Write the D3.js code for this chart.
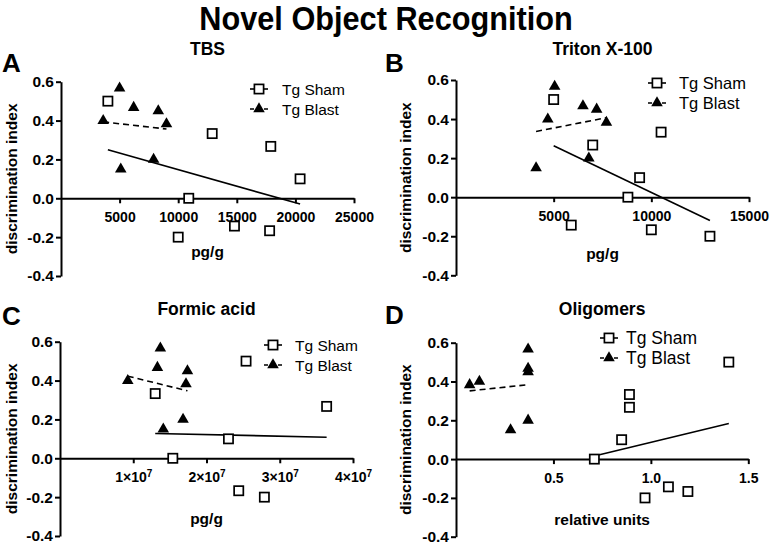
<!DOCTYPE html>
<html>
<head>
<meta charset="utf-8">
<script src="https://cdn.jsdelivr.net/npm/d3@7"></script>
<style>
  html, body { margin: 0; padding: 0; background: #fff; }
  svg { display: block; }
  text { font-family: "Liberation Sans", Arial, Helvetica, sans-serif; fill: #000; }
</style>
</head>
<body>
<svg id="chart" width="771" height="544"></svg>
<script>
// ---------------- DATA ----------------
const chartTitle = "Novel Object Recognition";
const panelLetters = ["A", "B", "C", "D"];
const panelTitles = ["TBS", "Triton X-100", "Formic acid", "Oligomers"];
const xAxisLabels = ["pg/g", "pg/g", "pg/g", "relative units"];
const yAxisLabel = "discrimination index";
const seriesNames = ["Tg Sham", "Tg Blast"];

const yTicks = [-0.4, -0.2, 0.0, 0.2, 0.4, 0.6];
const xDomainMax = [25000, 15000, 4e7, 1.5];
const xTicksA = [5000, 10000, 15000, 20000, 25000];
const xTicksB = [5000, 10000, 15000];
const xTicksC = [1e7, 2e7, 3e7, 4e7];
const xTicksD = [0.5, 1.0, 1.5];

// Panel A: TBS
const shamA_x = [4000, 12900, 17900, 20400, 10900, 10000, 14800, 17800];
const shamA_y = [0.5, 0.333, 0.267, 0.1, 0.0, -0.2, -0.143, -0.167];
const blastA_x = [3600, 5000, 6200, 8300, 9000, 7900, 5100];
const blastA_y = [0.4, 0.567, 0.467, 0.45, 0.383, 0.2, 0.15];

// Panel B: Triton X-100
const shamB_x = [5000, 7000, 10500, 9400, 8800, 5900, 10000, 13000];
const shamB_y = [0.5, 0.267, 0.333, 0.1, 0.0, -0.143, -0.167, -0.2];
const blastB_x = [4100, 4700, 5050, 6500, 7200, 7700, 6800];
const blastB_y = [0.15, 0.4, 0.567, 0.467, 0.45, 0.383, 0.2];

// Panel C: Formic acid
const shamC_x = [1.30e7, 2.54e7, 3.64e7, 2.30e7, 1.54e7, 2.44e7, 2.79e7];
const shamC_y = [0.333, 0.5, 0.267, 0.1, 0.0, -0.167, -0.2];
const blastC_x = [0.925e7, 1.37e7, 1.33e7, 1.74e7, 1.72e7, 1.68e7, 1.41e7];
const blastC_y = [0.4, 0.567, 0.467, 0.45, 0.383, 0.2, 0.15];

// Panel D: Oligomers
const shamD_x = [0.71, 0.85, 0.89, 0.89, 1.40, 0.97, 1.09, 1.19];
const shamD_y = [0.0, 0.1, 0.333, 0.267, 0.5, -0.2, -0.143, -0.167];
const blastD_x = [0.07, 0.12, 0.28, 0.37, 0.37, 0.37, 0.37];
const blastD_y = [0.383, 0.4, 0.15, 0.2, 0.567, 0.467, 0.45];

// ---------------- LAYOUT ----------------
const layout = [
  { x0: 61,  x1: 354,   yTop: 81.7,  yBot: 276,   titleY: 55,  letterX: 2,   letterY: 72,  ylabX: 17,  xlabY: 257, legX: 259, legTx: 282, legY: 89,  legFont: 15.5 },
  { x0: 456, x1: 749,   yTop: 80,    yBot: 275.3, titleY: 55,  letterX: 385, letterY: 72,  ylabX: 411, xlabY: 259, legX: 657, legTx: 679, legY: 83,  legFont: 16.5 },
  { x0: 60,  x1: 353,   yTop: 341.7, yBot: 536,   titleY: 315, letterX: 2,   letterY: 325, ylabX: 17,  xlabY: 524, legX: 273, legTx: 295, legY: 345, legFont: 15.5 },
  { x0: 456, x1: 748.3, yTop: 342.7, yBot: 536.7, titleY: 315, letterX: 385, letterY: 324, ylabX: 411, xlabY: 525, legX: 609, legTx: 626, legY: 338, legFont: 17.5 }
];

const panels = [
  { xt: xTicksA, sx: shamA_x, sy: shamA_y, bx: blastA_x, by: blastA_y, fmt: d => String(d) },
  { xt: xTicksB, sx: shamB_x, sy: shamB_y, bx: blastB_x, by: blastB_y, fmt: d => String(d) },
  { xt: xTicksC, sx: shamC_x, sy: shamC_y, bx: blastC_x, by: blastC_y, fmt: null },
  { xt: xTicksD, sx: shamD_x, sy: shamD_y, bx: blastD_x, by: blastD_y, fmt: d => d.toFixed(1) }
];

const svg = d3.select("#chart");

svg.append("text")
  .attr("transform", "translate(386,30) scale(0.93,1)")
  .attr("text-anchor", "middle")
  .attr("font-size", 33).attr("font-weight", "bold")
  .text(chartTitle);

function fit(xs, ys) {
  const mx = d3.mean(xs), my = d3.mean(ys);
  let num = 0, den = 0;
  xs.forEach((x, i) => { num += (x - mx) * (ys[i] - my); den += (x - mx) * (x - mx); });
  const b = num / den, a = my - b * mx;
  const lo = d3.min(xs), hi = d3.max(xs);
  return [[lo, a + b * lo], [hi, a + b * hi]];
}

const triangle = d3.symbol().type(d3.symbolTriangle).size(58);
const SQ = 9.2;

panels.forEach((p, i) => {
  const L = layout[i];
  const g = svg.append("g");
  const x = d3.scaleLinear().domain([0, xDomainMax[i]]).range([L.x0, L.x1]);
  const y = d3.scaleLinear().domain([-0.4, 0.6]).range([L.yBot, L.yTop]);
  const cx = (L.x0 + L.x1) / 2;

  // letter & title
  g.append("text").attr("x", L.letterX).attr("y", L.letterY)
    .attr("font-size", 26).attr("font-weight", "bold").text(panelLetters[i]);
  g.append("text").attr("x", cx).attr("y", L.titleY).attr("text-anchor", "middle")
    .attr("font-size", 17.5).attr("font-weight", "bold").text(panelTitles[i]);

  // y axis
  const ya = g.append("g").attr("transform", `translate(${L.x0},0)`)
    .call(d3.axisLeft(y).tickValues(yTicks).tickSize(5).tickSizeOuter(0).tickPadding(2)
      .tickFormat(v => v.toFixed(1)));
  // x axis at y = 0
  const xa = g.append("g").attr("transform", `translate(0,${y(0)})`)
    .call(d3.axisBottom(x).tickValues(p.xt).tickSize(5).tickSizeOuter(0).tickPadding(9)
      .tickFormat(p.fmt ? p.fmt : () => ""));
  [ya, xa].forEach(a => {
    a.select(".domain").attr("stroke", "#000").attr("stroke-width", 2);
    a.selectAll(".tick line").attr("stroke", "#000").attr("stroke-width", 2);
    a.selectAll(".tick text").attr("font-weight", "bold")
      .attr("font-family", '"Liberation Sans", Arial, Helvetica, sans-serif').attr("fill", "#000");
  });
  ya.selectAll(".tick text").attr("font-size", 15.5);
  xa.selectAll(".tick text").attr("font-size", 14);
  if (!p.fmt) {
    xa.selectAll(".tick text").each(function(d) {
      const t = d3.select(this);
      t.text(null);
      t.append("tspan").text(Math.round(d / 1e7) + "\u00d710");
      t.append("tspan").attr("font-size", 10).attr("dy", "-0.55em").text("7");
    });
  }

  // axis labels
  g.append("text").attr("transform", `translate(${L.ylabX},${(L.yTop + L.yBot) / 2}) rotate(-90)`)
    .attr("text-anchor", "middle").attr("font-size", 15.5).attr("font-weight", "bold").text(yAxisLabel);
  g.append("text").attr("x", cx).attr("y", L.xlabY).attr("text-anchor", "middle")
    .attr("font-size", 15.5).attr("font-weight", "bold").text(xAxisLabels[i]);

  // regression lines
  const line = d3.line().x(d => x(d[0])).y(d => y(d[1]));
  g.append("path").attr("d", line(fit(p.sx, p.sy))).attr("fill", "none")
    .attr("stroke", "#000").attr("stroke-width", 1.6);
  g.append("path").attr("d", line(fit(p.bx, p.by))).attr("fill", "none")
    .attr("stroke", "#000").attr("stroke-width", 1.6).attr("stroke-dasharray", "6,4");

  // markers
  g.selectAll(".sq").data(p.sx.map((v, k) => [v, p.sy[k]])).enter().append("rect")
    .attr("x", d => x(d[0]) - SQ / 2).attr("y", d => y(d[1]) - SQ / 2)
    .attr("width", SQ).attr("height", SQ)
    .attr("fill", "#fff").attr("stroke", "#000").attr("stroke-width", 1.7);
  g.selectAll(".tri").data(p.bx.map((v, k) => [v, p.by[k]])).enter().append("path")
    .attr("d", triangle).attr("transform", d => `translate(${x(d[0])},${y(d[1])})`)
    .attr("fill", "#000");

  // legend
  const lg = g.append("g");
  const r0 = L.legY, r1 = L.legY + 20;
  lg.append("line").attr("x1", L.legX - 9).attr("x2", L.legX + 9).attr("y1", r0).attr("y2", r0)
    .attr("stroke", "#000").attr("stroke-width", 1.6);
  lg.append("rect").attr("x", L.legX - SQ / 2).attr("y", r0 - SQ / 2).attr("width", SQ).attr("height", SQ)
    .attr("fill", "#fff").attr("stroke", "#000").attr("stroke-width", 1.7);
  lg.append("line").attr("x1", L.legX - 9).attr("x2", L.legX + 9).attr("y1", r1).attr("y2", r1)
    .attr("stroke", "#000").attr("stroke-width", 1.6).attr("stroke-dasharray", "4,3");
  lg.append("path").attr("d", triangle).attr("transform", `translate(${L.legX},${r1})`).attr("fill", "#000");
  [r0, r1].forEach((ry, k) => {
    lg.append("text").attr("x", L.legTx).attr("y", ry).attr("dy", "0.36em")
      .attr("font-size", L.legFont).text(seriesNames[k]);
  });
});
</script>
</body>
</html>
